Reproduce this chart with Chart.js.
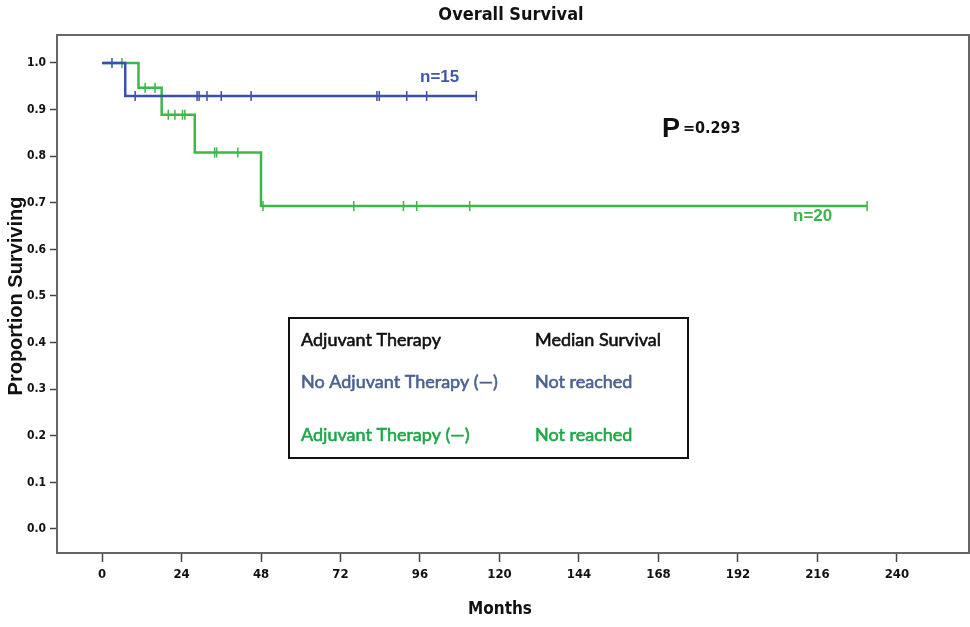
<!DOCTYPE html>
<html>
<head>
<meta charset="utf-8">
<script src="https://cdn.jsdelivr.net/npm/chart.js@4.4.1/dist/chart.umd.min.js"></script>
<style>
  html, body { margin: 0; padding: 0; background: #fff; }
  #wrap { width: 970px; height: 627px; position: relative; }
</style>
</head>
<body>
<div id="wrap"><canvas id="km"></canvas></div>
<script>
// x axis tick labels (months)
const monthTicks = [0, 24, 48, 72, 96, 120, 144, 168, 192, 216, 240];
const survTicks = [0.0, 0.1, 0.2, 0.3, 0.4, 0.5, 0.6, 0.7, 0.8, 0.9, 1.0];

// No adjuvant therapy (n=15): steps and censored times
const noAdjMonths = [0, 7, 113];
const noAdjSurv = [1.0, 0.929, 0.929];
const noAdjCensored = [3, 10, 28.7, 29.3, 31.7, 36, 45, 83, 83.7, 92, 98, 113];

// Adjuvant therapy (n=20)
const adjMonths = [0, 11, 18, 28, 48, 231];
const adjSurv = [1.0, 0.947, 0.889, 0.808, 0.693, 0.693];
const adjCensored = [6, 13, 16, 20, 22, 24.3, 25, 34, 34.6, 41, 48.6, 76, 91, 95, 111, 231];

const BLUE = "#3b4fae";
const GREEN = "#3cb84a";

// level of the step curve at a given month
function levelAt(months, surv, t) {
  let v = surv[0];
  for (let i = 0; i < months.length; i++) {
    if (months[i] <= t) v = surv[i];
  }
  return v;
}

const stepPts = (m, s) => m.map((x, i) => ({ x, y: s[i] }));
const censPts = (c, m, s) => c.map((x) => ({ x, y: levelAt(m, s, x) }));

const NARROW = "'Liberation Sans Narrow', 'DejaVu Sans Condensed', 'Liberation Sans', sans-serif";

// text with a thin outline so it reads a bit heavier
function heavyText(ctx, txt, x, y, color) {
  ctx.fillStyle = color;
  ctx.strokeStyle = color;
  ctx.lineWidth = 0.6;
  ctx.fillText(txt, x, y);
  ctx.strokeText(txt, x, y);
}

const decorPlugin = {
  id: "decor",
  beforeDraw(chart) {
    const { ctx } = chart;
    ctx.save();
    ctx.fillStyle = "#fff";
    ctx.fillRect(0, 0, chart.width, chart.height);
    ctx.restore();
  },
  afterDraw(chart) {
    const { ctx, chartArea: a } = chart;
    ctx.save();
    // plot frame
    ctx.strokeStyle = "#666";
    ctx.lineWidth = 2;
    ctx.strokeRect(a.left, a.top, 969 - a.left, a.bottom - a.top);

    // title
    ctx.fillStyle = "#111";
    ctx.textAlign = "center";
    ctx.textBaseline = "middle";
    ctx.font = "bold 18px " + NARROW;
    ctx.fillText("Overall Survival", 511, 15);

    // axis titles
    ctx.font = "bold 17px " + NARROW;
    ctx.fillText("Months", 500, 610);
    ctx.save();
    ctx.translate(16, 296);
    ctx.rotate(-Math.PI / 2);
    ctx.font = "bold 20px 'Liberation Sans', Arial, sans-serif";
    ctx.fillText("Proportion Surviving", 0, 0);
    ctx.restore();

    // n labels
    ctx.font = "bold 17px 'Liberation Sans', Arial, sans-serif";
    ctx.textAlign = "left";
    ctx.fillStyle = "#3f55b0";
    ctx.fillText("n=15", 420, 77);
    ctx.fillStyle = "#3db54a";
    ctx.fillText("n=20", 793, 216);

    // p value
    ctx.fillStyle = "#111";
    ctx.textBaseline = "alphabetic";
    ctx.font = "bold 27px 'Liberation Sans', Arial, sans-serif";
    ctx.fillText("P", 662, 137);
    ctx.font = "bold 16px " + NARROW;
    ctx.fillText("=0.293", 683, 133);

    // median survival box
    ctx.strokeStyle = "#111";
    ctx.lineWidth = 2;
    ctx.strokeRect(289, 318, 399, 140);
    ctx.font = "18px Lato, 'Open Sans', sans-serif";
    ctx.textBaseline = "middle";
    heavyText(ctx, "Adjuvant Therapy", 301, 340, "#111");
    heavyText(ctx, "Median Survival", 535, 340, "#111");
    heavyText(ctx, "No Adjuvant Therapy (\u2014)", 301, 382, "#4a6391");
    heavyText(ctx, "Not reached", 535, 382, "#4a6391");
    heavyText(ctx, "Adjuvant Therapy (\u2014)", 301, 435, "#1ea848");
    heavyText(ctx, "Not reached", 535, 435, "#1ea848");
    ctx.restore();
  },
};

new Chart(document.getElementById("km"), {
  type: "line",
  data: {
    datasets: [
      {
        label: "No Adjuvant Therapy",
        data: stepPts(noAdjMonths, noAdjSurv),
        borderColor: BLUE,
        borderWidth: 2.5,
        stepped: true,
        pointRadius: 0,
        fill: false,
      },
      {
        label: "No Adjuvant censored",
        data: censPts(noAdjCensored, noAdjMonths, noAdjSurv),
        showLine: false,
        pointStyle: "line",
        rotation: 90,
        pointRadius: 5,
        borderColor: BLUE,
        borderWidth: 1.5,
      },
      {
        label: "Adjuvant Therapy",
        data: stepPts(adjMonths, adjSurv),
        borderColor: GREEN,
        borderWidth: 2.5,
        stepped: true,
        pointRadius: 0,
        fill: false,
      },
      {
        label: "Adjuvant censored",
        data: censPts(adjCensored, adjMonths, adjSurv),
        showLine: false,
        pointStyle: "line",
        rotation: 90,
        pointRadius: 5,
        borderColor: GREEN,
        borderWidth: 1.5,
      },
    ],
  },
  options: {
    responsive: true,
    maintainAspectRatio: false,
    animation: false,
    layout: { padding: { top: 35, right: 0, left: 0, bottom: 0 } },
    plugins: { legend: { display: false }, tooltip: { enabled: false } },
    scales: {
      x: {
        type: "linear",
        min: -13.6,
        max: 260.1,
        afterBuildTicks: (s) => { s.ticks = monthTicks.map((v) => ({ value: v })); },
        afterFit: (s) => { s.height = 74; },
        border: { display: false },
        grid: { drawOnChartArea: false, tickLength: 9, color: "#444", tickWidth: 1.5 },
        ticks: {
          padding: 5,
          color: "#111",
          font: { family: NARROW, size: 13, weight: "bold" },
          maxRotation: 0,
          autoSkip: false,
        },
      },
      y: {
        type: "linear",
        min: -0.0515,
        max: 1.06,
        afterBuildTicks: (s) => { s.ticks = survTicks.map((v) => ({ value: v })); },
        afterFit: (s) => { s.width = 57; },
        border: { display: false },
        grid: { drawOnChartArea: false, tickLength: 7, color: "#444", tickWidth: 1.5 },
        ticks: {
          padding: 4,
          color: "#111",
          font: { family: NARROW, size: 12, weight: "bold" },
          callback: (v) => v.toFixed(1),
        },
      },
    },
  },
  plugins: [decorPlugin],
});
</script>
</body>
</html>
